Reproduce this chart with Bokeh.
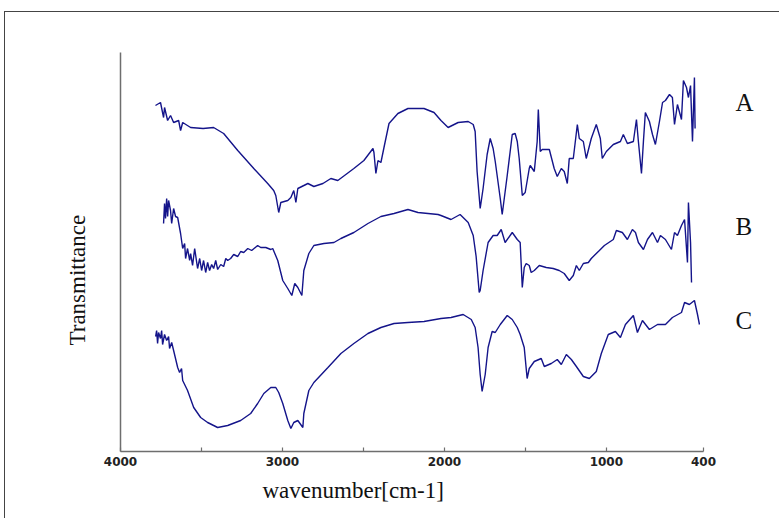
import math
from bokeh.plotting import figure
from bokeh.models import Range1d, FixedTicker, LinearAxis, Title
from bokeh.embed import file_html
from bokeh.resources import INLINE

# ---- data (wavenumber in cm-1, transmittance in arbitrary offset units) ----
A_wn = [3784, 3753, 3734, 3728, 3709, 3691, 3672, 3641, 3629, 3616,
        3567, 3490, 3425, 3363, 3276, 3177, 3091, 3054, 3041, 3023,
        3010, 2967, 2948, 2930, 2917, 2905, 2843, 2806, 2750, 2701,
        2658, 2559, 2497, 2441, 2435, 2423, 2410, 2392, 2373, 2342,
        2287, 2225, 2126, 2064, 2021, 1977, 1915, 1853, 1822, 1810,
        1798, 1779, 1761, 1736, 1717, 1699, 1686, 1655, 1643, 1612,
        1581, 1563, 1550, 1538, 1519, 1501, 1476, 1470, 1445, 1427,
        1420, 1408, 1396, 1352, 1322, 1303, 1278, 1260, 1241, 1229,
        1204, 1179, 1167, 1142, 1124, 1093, 1062, 1037, 1025, 1000,
        957, 913, 895, 870, 833, 814, 802, 783, 771, 759,
        734, 715, 697, 672, 653, 635, 610, 592, 579, 561,
        536, 524, 505, 493, 480, 468, 456, 452]
A_T = [343, 346, 331, 341, 328, 333, 326, 328, 318, 326,
       321, 320, 321, 315, 298, 280, 265, 258, 253, 236,
       246, 248, 251, 258, 246, 260, 265, 262, 265, 270,
       268, 280, 288, 300, 296, 275, 288, 286, 301, 325,
       335, 340, 340, 336, 328, 321, 326, 327, 324, 317,
       277, 240, 260, 294, 310, 300, 287, 250, 234, 273,
       314, 315, 307, 290, 253, 256, 280, 283, 277, 307,
       339, 297, 299, 299, 280, 272, 280, 277, 265, 290,
       290, 324, 310, 307, 290, 310, 324, 310, 290, 297,
       304, 307, 314, 305, 307, 329, 307, 275, 307, 336,
       327, 314, 304, 327, 346, 348, 354, 351, 324, 344,
       329, 368, 361, 351, 363, 307, 371, 320]

B_wn = [3734, 3728, 3722, 3715, 3709, 3703, 3691, 3684, 3672, 3660,
        3647, 3629, 3616, 3604, 3598, 3586, 3573, 3567, 3555, 3542,
        3524, 3511, 3499, 3487, 3474, 3462, 3450, 3437, 3425, 3412,
        3400, 3381, 3363, 3350, 3338, 3320, 3301, 3276, 3258, 3239,
        3214, 3190, 3153, 3134, 3103, 3072, 3060, 3029, 2998, 2967,
        2942, 2924, 2905, 2880, 2868, 2837, 2806, 2744, 2682, 2639,
        2559, 2472, 2392, 2311, 2225, 2163, 2101, 2039, 2021, 1959,
        1903, 1853, 1822, 1804, 1785, 1779, 1761, 1730, 1699, 1674,
        1649, 1625, 1581, 1550, 1532, 1519, 1507, 1495, 1476, 1464,
        1445, 1414, 1371, 1328, 1291, 1260, 1229, 1204, 1185, 1167,
        1142, 1111, 1093, 1062, 1043, 1012, 957, 938, 901, 870,
        839, 820, 802, 771, 746, 715, 684, 666, 635, 598,
        579, 561, 536, 517, 499, 493, 480, 474]
B_T = [225, 245, 230, 250, 232, 248, 238, 225, 240, 232,
       231, 215, 200, 205, 190, 200, 188, 195, 183, 200,
       180, 190, 178, 188, 176, 186, 178, 184, 180, 188,
       179, 184, 182, 190, 188, 190, 194, 192, 197, 196,
       200, 198, 203, 201, 201, 199, 200, 188, 168, 160,
       153, 165, 161, 153, 178, 195, 203, 205, 206, 210,
       216, 225, 232, 235, 239, 236, 235, 234, 233, 229,
       234, 226, 213, 192, 156, 158, 178, 206, 213, 213,
       219, 206, 216, 209, 206, 161, 181, 185, 183, 176,
       178, 183, 181, 180, 178, 175, 168, 173, 183, 178,
       185, 186, 190, 195, 198, 203, 209, 218, 216, 209,
       219, 216, 206, 199, 209, 216, 206, 213, 209, 199,
       216, 213, 223, 229, 186, 246, 206, 166]

C_wn = [3783, 3777, 3771, 3765, 3753, 3746, 3740, 3728, 3715, 3703,
        3697, 3684, 3672, 3647, 3635, 3623, 3616, 3586, 3548, 3505,
        3462, 3400, 3338, 3258, 3196, 3153, 3115, 3072, 3041, 3023,
        2998, 2967, 2948, 2930, 2905, 2874, 2868, 2837, 2806, 2719,
        2639, 2559, 2472, 2392, 2311, 2225, 2126, 2021, 1959, 1884,
        1834, 1810, 1792, 1779, 1767, 1748, 1730, 1705, 1686, 1655,
        1612, 1581, 1550, 1532, 1507, 1489, 1476, 1445, 1402, 1383,
        1340, 1303, 1278, 1247, 1216, 1185, 1142, 1105, 1062, 1031,
        988, 944, 913, 882, 833, 808, 777, 734, 684, 635,
        592, 536, 517, 487, 456, 437, 425]
C_T = [112, 118, 105, 116, 110, 118, 104, 114, 108, 112,
       100, 106, 98, 81, 76, 80, 68, 58, 41, 31,
       26, 21, 23, 28, 35, 45, 55, 61, 61, 56,
       45, 28, 20, 26, 28, 21, 35, 58, 66, 81,
       95, 105, 115, 121, 125, 126, 127, 130, 131, 134,
       129, 121, 101, 74, 57, 74, 101, 117, 116, 124,
       133, 129, 121, 114, 101, 70, 80, 87, 90, 82,
       85, 89, 84, 94, 89, 82, 72, 70, 77, 95,
       114, 117, 111, 124, 133, 116, 128, 119, 124, 124,
       131, 136, 146, 144, 148, 134, 124]

x_ticks = [4000, 3500, 3000, 2500, 2000, 1500, 1000, 400]
x_tick_labels = {4000: "4000", 3500: "", 3000: "3000", 2500: "",
                 2000: "2000", 1500: "", 1000: "1000", 400: "400"}
series_names = ["A", "B", "C"]
series_label_levels = [346, 222, 128]

LINE = "#14148a"
AXIS = "#6e6e6e"
SERIF = "Liberation Serif"

p = figure(width=775, height=507, output_backend="svg", toolbar_location=None,
           x_range=Range1d(4000, 400), y_range=Range1d(-3, 396),
           min_border_left=115, min_border_right=77,
           min_border_top=40, min_border_bottom=68)
p.styles = {"margin-left": "4px", "margin-top": "11px",
            "border-top": "1px solid #444444", "border-left": "1px solid #444444"}

p.xgrid.visible = False
p.ygrid.visible = False
p.outline_line_color = None
p.background_fill_color = "white"
p.border_fill_color = "white"

for wn, t in [(A_wn, A_T), (B_wn, B_T), (C_wn, C_T)]:
    p.line(wn, t, line_color=LINE, line_width=1.4)

xa = p.xaxis[0]
xa.ticker = FixedTicker(ticks=x_ticks)
xa.major_label_overrides = x_tick_labels
xa.axis_line_color = AXIS
xa.axis_line_width = 1.5
xa.major_tick_line_color = AXIS
xa.major_tick_line_width = 1.2
xa.major_tick_in = 4
xa.major_tick_out = 0
xa.minor_tick_line_color = None
xa.major_label_standoff = 5
xa.major_label_text_font = "DejaVu Sans"
xa.major_label_text_font_style = "bold"
xa.major_label_text_font_size = "12px"
xa.major_label_text_color = "#222222"

ya = p.yaxis[0]
ya.ticker = FixedTicker(ticks=[])
ya.axis_line_color = AXIS
ya.axis_line_width = 1.5
ya.major_tick_line_color = None
ya.minor_tick_line_color = None
ya.major_label_text_color = None

# series letters on a bare right axis
ra = LinearAxis(ticker=FixedTicker(ticks=series_label_levels),
                major_label_overrides=dict(zip(series_label_levels, series_names)),
                axis_line_color=None, major_tick_line_color=None,
                minor_tick_line_color=None, major_label_standoff=26,
                major_label_text_font=SERIF, major_label_text_font_size="25px",
                major_label_text_color="#111111")
p.add_layout(ra, "right")

p.add_layout(Title(text="wavenumber[cm-1]", align="left", offset=142,
                   text_font=SERIF, text_font_size="23px", text_font_style="normal",
                   text_color="#111111", standoff=15), "below")
p.add_layout(Title(text="Transmittance", align="left", offset=106,
                   text_font=SERIF, text_font_size="23px", text_font_style="normal",
                   text_color="#111111", standoff=62), "left")

open("out.html", "w").write(file_html(p, INLINE))
